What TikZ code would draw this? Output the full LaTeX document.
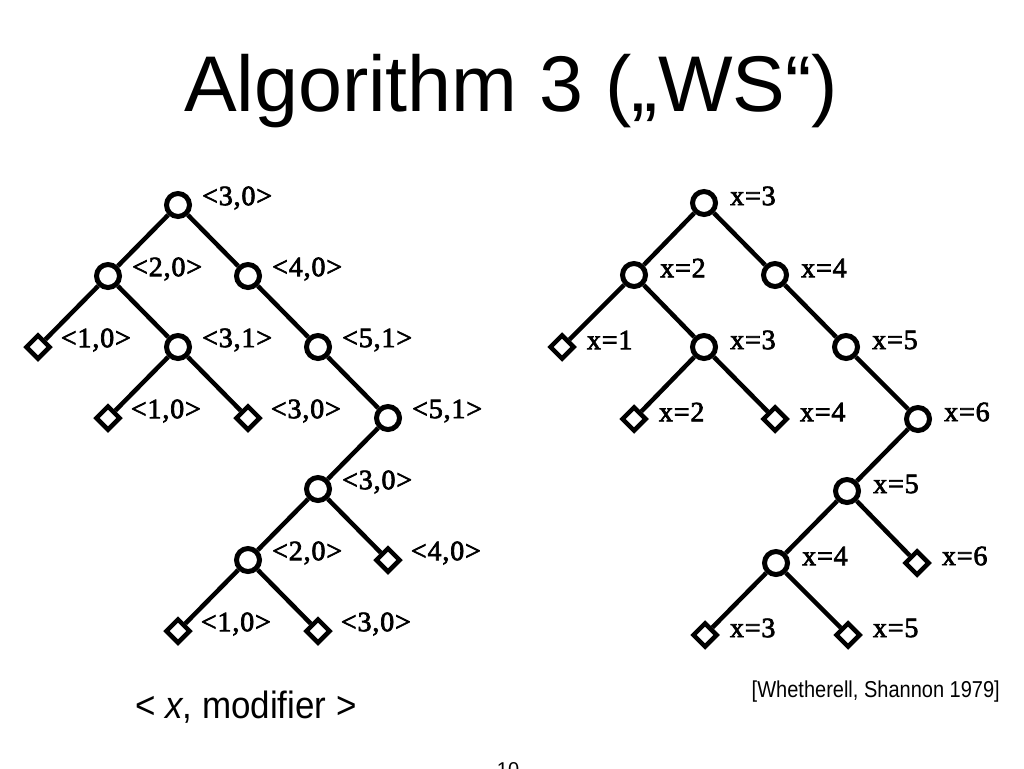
\documentclass[tikz,border=0pt]{standalone}
\usepackage{fontspec}
\setmainfont{Liberation Serif}
\setsansfont{Liberation Sans}
\newfontfamily\treefont[LetterSpace=3,FakeBold=2.5]{Liberation Serif}
\usetikzlibrary{shapes.geometric}

\tikzset{
        lbl/.style={font=\treefont\fontsize{28}{28}\selectfont, inner sep=1pt, xshift=9pt, yshift=7pt},
        inner/.style={circle, draw, line width=5pt, minimum size=23pt, inner sep=0pt, label={[lbl]0:#1}},
        leaf/.style={diamond, draw, line width=4.5pt, minimum size=25pt, inner sep=0pt, label={[lbl, xshift=-2pt]0:#1}},
        edge/.style={line width=4.5pt}
}

\begin{document}
\begin{tikzpicture}[x=1pt, y=-1pt]
        \fill[white] (0,0) rectangle (1024,768);
        \useasboundingbox (0,0) rectangle (1024,768);

        \node[font=\sffamily\fontsize{79}{79}\selectfont, anchor=base, inner sep=0pt] (title) at (511,111) {Algorithm 3 („WS“)};

        % left tree: <x, modifier>
        \node[inner={<3,0>}] (l1) at (178,205) {};
        \node[inner={<2,0>}] (l2) at (108,276) {};
        \node[inner={<4,0>}] (l3) at (248,276) {};
        \node[leaf={<1,0>}] (l4) at (38,347) {};
        \node[inner={<3,1>}] (l5) at (178,347) {};
        \node[inner={<5,1>}] (l6) at (318,347) {};
        \node[leaf={<1,0>}] (l7) at (108,418) {};
        \node[leaf={<3,0>}] (l8) at (248,418) {};
        \node[inner={<5,1>}] (l9) at (388,418) {};
        \node[inner={<3,0>}] (l10) at (318,489) {};
        \node[inner={<2,0>}] (l11) at (248,560) {};
        \node[leaf={<4,0>}] (l12) at (388,560) {};
        \node[leaf={<1,0>}] (l13) at (178,631) {};
        \node[leaf={<3,0>}] (l14) at (318,631) {};
        \draw[edge] (l1) -- (l2);
        \draw[edge] (l1) -- (l3);
        \draw[edge] (l2) -- (l4);
        \draw[edge] (l2) -- (l5);
        \draw[edge] (l3) -- (l6);
        \draw[edge] (l5) -- (l7);
        \draw[edge] (l5) -- (l8);
        \draw[edge] (l6) -- (l9);
        \draw[edge] (l9) -- (l10);
        \draw[edge] (l10) -- (l11);
        \draw[edge] (l10) -- (l12);
        \draw[edge] (l11) -- (l13);
        \draw[edge] (l11) -- (l14);

        % right tree: final x
        \begin{scope}[every label/.append style={xshift=2pt}]
        \node[inner={x=3}] (r1) at (704,203) {};
        \node[inner={x=2}] (r2) at (634,275) {};
        \node[inner={x=4}] (r3) at (775,275) {};
        \node[leaf={x=1}] (r4) at (562,347) {};
        \node[inner={x=3}] (r5) at (704,347) {};
        \node[inner={x=5}] (r6) at (846,347) {};
        \node[leaf={x=2}] (r7) at (634,419) {};
        \node[leaf={x=4}] (r8) at (775,419) {};
        \node[inner={x=6}] (r9) at (918,419) {};
        \node[inner={x=5}] (r10) at (847,491) {};
        \node[inner={x=4}] (r11) at (776,563) {};
        \node[leaf={x=6}] (r12) at (917,563) {};
        \node[leaf={x=3}] (r13) at (705,635) {};
        \node[leaf={x=5}] (r14) at (848,635) {};
        \end{scope}
        \draw[edge] (r1) -- (r2);
        \draw[edge] (r1) -- (r3);
        \draw[edge] (r2) -- (r4);
        \draw[edge] (r2) -- (r5);
        \draw[edge] (r3) -- (r6);
        \draw[edge] (r5) -- (r7);
        \draw[edge] (r5) -- (r8);
        \draw[edge] (r6) -- (r9);
        \draw[edge] (r9) -- (r10);
        \draw[edge] (r10) -- (r11);
        \draw[edge] (r10) -- (r12);
        \draw[edge] (r11) -- (r13);
        \draw[edge] (r11) -- (r14);

        \node[font=\sffamily\fontsize{38}{38}\selectfont, anchor=base west, inner sep=0pt] (legend) at (135,718) {\scalebox{0.92}[1]{< \textit{x}, modifier >}};
        \node[font=\sffamily\fontsize{23}{23}\selectfont, anchor=base east, inner sep=0pt] (source) at (1000,697) {\scalebox{0.87}[1]{[Whetherell, Shannon 1979]}};
        \node[font=\sffamily\fontsize{20}{20}\selectfont, anchor=north, inner sep=0pt] (pagenum) at (508,762) {10};
\end{tikzpicture}
\end{document}
